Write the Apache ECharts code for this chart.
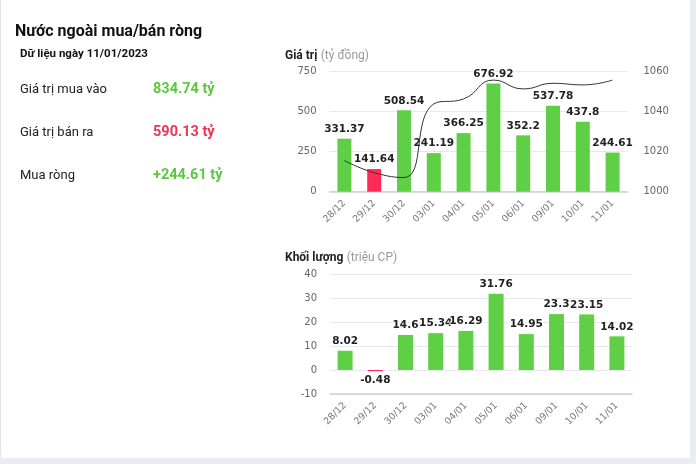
<!DOCTYPE html>
<html>
<head>
<meta charset="utf-8">
<script src="https://cdn.jsdelivr.net/npm/echarts@6/dist/echarts.min.js"></script>
<style>
  html, body { margin: 0; padding: 0; background: #e9edf2; }
  #card { position: absolute; left: 0; top: 0; width: 690px; height: 458px; background: #fff; box-sizing: border-box; border-left: 1px solid #e4e8ee; }
  #chart { position: absolute; left: 0; top: 0; width: 696px; height: 464px; }
</style>
</head>
<body>
<div id="card"></div>
<div id="chart"></div>
<script>
// ---- data ----
const categories = ['28/12', '29/12', '30/12', '03/01', '04/01', '05/01', '06/01', '09/01', '10/01', '11/01'];
// net value (tỷ đồng), shown as magnitude; side says buy/sell
const valueData = [331.37, 141.64, 508.54, 241.19, 366.25, 676.92, 352.2, 537.78, 437.8, 244.61];
const valueSide = ['buy', 'sell', 'buy', 'buy', 'buy', 'buy', 'buy', 'buy', 'buy', 'buy'];
// VN-Index line (right axis)
const indexData = [1015.6, 1009.5, 1007.1, 1043.9, 1046.4, 1055.8, 1051.4, 1054.2, 1053.4, 1055.8];
// net volume (triệu CP)
const volumeData = [8.02, -0.48, 14.6, 15.34, 16.29, 31.76, 14.95, 23.3, 23.15, 14.02];
const valueTicks = { min: 0, max: 750, interval: 250 };
const indexTicks = { min: 1000, max: 1060, interval: 20 };
const volumeTicks = { min: -10, max: 40, interval: 10 };
const summary = {
  title: 'Nước ngoài mua/bán ròng',
  date: 'Dữ liệu ngày 11/01/2023',
  rows: [
    ['Giá trị mua vào', '834.74 tỷ', 'buy'],
    ['Giá trị bán ra', '590.13 tỷ', 'sell'],
    ['Mua ròng', '+244.61 tỷ', 'buy']
  ]
};

const GREEN = '#5fcf45';
const RED = '#ff2b55';
const TXT_GREEN = '#5cc840';
const TXT_RED = '#ee3355';
const FONT = 'Roboto, "Liberation Sans", Arial, sans-serif';
const LFONT = '"DejaVu Sans", Verdana, sans-serif';

const chart = echarts.init(document.getElementById('chart'));

const graphics = [
  { type: 'text', left: 15, top: 24, style: { text: summary.title, font: 'bold 16px ' + FONT, fill: '#111' } },
  { type: 'text', left: 20, top: 48, style: { text: summary.date, font: 'bold 11.5px ' + FONT, fill: '#111' } }
];
const rowY = [83, 126, 169];
summary.rows.forEach((r, i) => {
  graphics.push({ type: 'text', left: 20, top: rowY[i], style: { text: r[0], font: '13px ' + FONT, fill: '#222' } });
  graphics.push({ type: 'text', left: 153, top: rowY[i] - 1, style: { text: r[1], font: 'bold 14.5px ' + FONT, fill: r[2] === 'buy' ? TXT_GREEN : TXT_RED } });
});

const labelStyle = {
  show: true,
  position: 'top',
  distance: 4,
  fontFamily: LFONT,
  fontWeight: 'bold',
  fontSize: 10.5,
  color: '#222',
  textBorderColor: '#fff',
  textBorderWidth: 2
};

const xAxisCommon = {
  type: 'category',
  axisTick: { show: false },
  axisLine: { onZero: false, lineStyle: { color: '#ccd0d6', width: 1.5 } },
  axisLabel: { rotate: 45, fontFamily: LFONT, fontSize: 9.5, color: '#777', margin: 10 }
};
const yLabel = { fontFamily: LFONT, fontSize: 10, color: '#666' };
const plain = v => String(v);

const titleRich = {
  b: { fontFamily: FONT, fontWeight: 'bold', fontSize: 12, color: '#222' },
  g: { fontFamily: FONT, fontWeight: 'normal', fontSize: 12, color: '#9a9a9a' }
};

chart.setOption({
  animation: false,
  title: [
    { text: '{b|Giá trị} {g|(tỷ đồng)}', left: 280, top: 45, textStyle: { fontWeight: 'normal', fontSize: 12, rich: titleRich } },
    { text: '{b|Khối lượng} {g|(triệu CP)}', left: 280, top: 247, textStyle: { fontWeight: 'normal', fontSize: 12, rich: titleRich } }
  ],
  graphic: graphics,
  grid: [
    { left: 329.5, right: 68.5, top: 71.7, height: 120 },
    { left: 330, right: 64, top: 274, height: 120 }
  ],
  xAxis: [
    Object.assign({}, xAxisCommon, { gridIndex: 0, data: categories }),
    Object.assign({}, xAxisCommon, { gridIndex: 1, data: categories })
  ],
  yAxis: [
    { type: 'value', gridIndex: 0, min: valueTicks.min, max: valueTicks.max, interval: valueTicks.interval,
      axisLabel: Object.assign({ margin: 13, formatter: plain }, yLabel), splitLine: { lineStyle: { color: '#e6e8ec' } } },
    { type: 'value', gridIndex: 0, position: 'right', min: indexTicks.min, max: indexTicks.max, interval: indexTicks.interval,
      axisLabel: Object.assign({ margin: 16, formatter: plain }, yLabel), splitLine: { show: false }, axisLine: { show: false } },
    { type: 'value', gridIndex: 1, min: volumeTicks.min, max: volumeTicks.max, interval: volumeTicks.interval,
      axisLabel: Object.assign({ margin: 13, formatter: plain }, yLabel), splitLine: { lineStyle: { color: '#e6e8ec' } } }
  ],
  series: [
    {
      type: 'bar', xAxisIndex: 0, yAxisIndex: 0, barWidth: 14,
      data: valueData.map((v, i) => ({ value: v, itemStyle: { color: valueSide[i] === 'buy' ? GREEN : RED } })),
      label: labelStyle, z: 2
    },
    {
      type: 'line', xAxisIndex: 0, yAxisIndex: 1, data: indexData, smooth: true, showSymbol: false,
      lineStyle: { color: '#333', width: 1 }, z: 3
    },
    {
      type: 'bar', xAxisIndex: 1, yAxisIndex: 2, barWidth: 15,
      data: volumeData.map(v => ({
        value: v,
        itemStyle: { color: v >= 0 ? GREEN : RED },
        label: { position: v >= 0 ? 'top' : 'bottom' }
      })),
      label: labelStyle
    }
  ]
});
</script>
</body>
</html>
